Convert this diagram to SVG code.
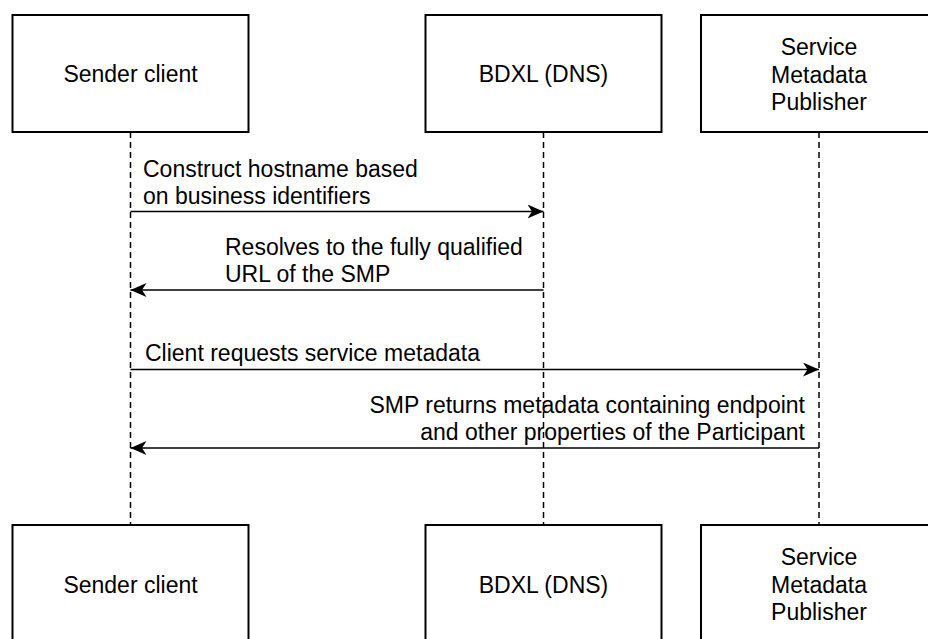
<svg xmlns="http://www.w3.org/2000/svg" width="928" height="639" viewBox="0 0 928 639">
<style>
.box{fill:#fff;stroke:#000;stroke-width:2}
.life{stroke:#000;stroke-width:1.5;stroke-dasharray:6 4;fill:none}
.msg{stroke:#000;stroke-width:1.6;fill:none}
text{font-family:"Liberation Sans",Arial,Helvetica,sans-serif;font-size:23px;fill:#000}
.c{text-anchor:middle}
.r{text-anchor:end}
</style>
<defs>
<marker id="ah" markerWidth="18" markerHeight="14" refX="16" refY="7" orient="auto" markerUnits="userSpaceOnUse">
<path d="M0,0 L16,7 L0,14 L4.5,7 Z" fill="#000"/>
</marker>
</defs>
<rect width="928" height="639" fill="#fff"/>
<g id="lifelines">
<line class="life" x1="130.5" y1="132" x2="130.5" y2="525"/>
<line class="life" x1="543.5" y1="132" x2="543.5" y2="525"/>
<line class="life" x1="819" y1="132" x2="819" y2="525"/>
</g>
<g id="sender-top"><rect class="box" x="12.5" y="15" width="236" height="117"/><text class="c" x="130.5" y="82">Sender client</text></g>
<g id="bdxl-top"><rect class="box" x="425.5" y="15" width="236" height="117"/><text class="c" x="543.5" y="82">BDXL (DNS)</text></g>
<g id="smp-top"><rect class="box" x="701" y="15" width="236" height="117"/><text class="c" x="819" y="55">Service</text><text class="c" x="819" y="82.5">Metadata</text><text class="c" x="819" y="110">Publisher</text></g>
<g id="sender-bottom"><rect class="box" x="12.5" y="525" width="236" height="117"/><text class="c" x="130.5" y="593">Sender client</text></g>
<g id="bdxl-bottom"><rect class="box" x="425.5" y="525" width="236" height="117"/><text class="c" x="543.5" y="593">BDXL (DNS)</text></g>
<g id="smp-bottom"><rect class="box" x="701" y="525" width="236" height="117"/><text class="c" x="819" y="565">Service</text><text class="c" x="819" y="592.5">Metadata</text><text class="c" x="819" y="620">Publisher</text></g>
<g id="connectors">
<line class="msg" x1="130.5" y1="211.5" x2="543.5" y2="211.5" marker-end="url(#ah)"/>
<text x="143" y="177">Construct hostname based</text>
<text x="143" y="203.5">on business identifiers</text>
<line class="msg" x1="543.5" y1="290" x2="130.5" y2="290" marker-end="url(#ah)"/>
<text x="225" y="255">Resolves to the fully qualified</text>
<text x="225" y="282">URL of the SMP</text>
<line class="msg" x1="130.5" y1="369.5" x2="819" y2="369.5" marker-end="url(#ah)"/>
<text x="145" y="361">Client requests service metadata</text>
<line class="msg" x1="819" y1="448" x2="130.5" y2="448" marker-end="url(#ah)"/>
<text class="r" x="805" y="413">SMP returns metadata containing endpoint</text>
<text class="r" x="805" y="440">and other properties of the Participant</text>
</g>
</svg>
